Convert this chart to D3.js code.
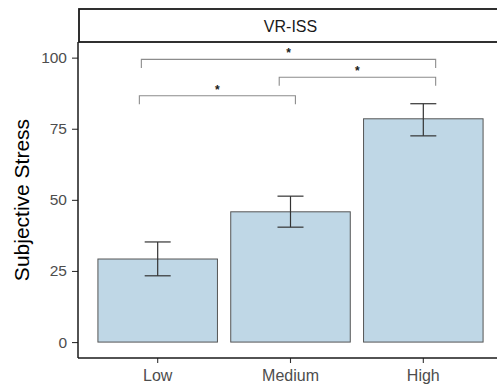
<!DOCTYPE html>
<html>
  <head>
    <meta charset="utf-8">
    <title>VR-ISS Subjective Stress</title>
    <style>
      body { margin: 0; background: #fff; }
      svg { display: block; font-family: "Liberation Sans", Arial, sans-serif; }
    </style>
  </head>
  <body>
    <div id="chart"></div>
    <script src="https://cdn.jsdelivr.net/npm/d3@7"></script>
    <script>
    var categories = ["Low", "Medium", "High"];
    var means = [29.2, 45.8, 78.5];
    var lower = [23.3, 40.4, 72.5];
    var upper = [35.2, 51.3, 83.8];
    var yTicks = [0, 25, 50, 75, 100];
    var panelTitle = "VR-ISS";
    var yTitle = "Subjective Stress";

    // significance brackets, x in category positions (Low = 1)
    var bracketFrom = [0.862, 1.915, 0.877];
    var bracketTo = [2.037, 3.093, 3.093];
    var bracketY = [86.6, 93.1, 99.4];
    var bracketLabel = ["*", "*", "*"];

    var width = 497, height = 385;
    var panelLeft = 78, panelTop = 42, panelBottom = 358, panelRight = 503;

    var svg = d3.select("#chart").append("svg")
        .attr("width", width)
        .attr("height", height);

    var x = d3.scaleBand()
        .domain(categories)
        .range([panelLeft, panelRight])
        .paddingInner(0.1)
        .paddingOuter(0.15);

    var xPos = function(p) {
        return x(categories[0]) + x.bandwidth() / 2 + (p - 1) * x.step();
    };

    var y = d3.scaleLinear()
        .domain([-5.6, 105.5])
        .range([panelBottom, panelTop]);

    // strip
    svg.append("rect")
        .attr("x", panelLeft + 1)
        .attr("y", 9)
        .attr("width", panelRight - panelLeft)
        .attr("height", panelTop - 9)
        .style("fill", "#fff")
        .style("stroke", "#1a1a1a")
        .style("stroke-width", 1.8);
    svg.append("text")
        .attr("x", (panelLeft + panelRight) / 2)
        .attr("y", 26)
        .attr("dy", "0.35em")
        .attr("text-anchor", "middle")
        .style("font-size", "16px")
        .style("fill", "#1a1a1a")
        .text(panelTitle);

    // bars
    svg.selectAll(".bar")
        .data(categories)
        .enter().append("rect")
        .attr("class", "bar")
        .attr("x", function(d) { return x(d); })
        .attr("y", function(d, i) { return y(means[i]); })
        .attr("width", x.bandwidth())
        .attr("height", function(d, i) { return y(0) - y(means[i]); })
        .style("fill", "#bfd7e6")
        .style("stroke", "#555")
        .style("stroke-width", 1);

    // error bars
    var capHalf = 13;
    var eb = svg.selectAll(".err")
        .data(categories)
        .enter().append("g")
        .attr("class", "err")
        .style("stroke", "#333")
        .style("stroke-width", 1.2);
    eb.append("line")
        .attr("x1", function(d) { return x(d) + x.bandwidth() / 2; })
        .attr("x2", function(d) { return x(d) + x.bandwidth() / 2; })
        .attr("y1", function(d, i) { return y(lower[i]); })
        .attr("y2", function(d, i) { return y(upper[i]); });
    eb.append("line")
        .attr("x1", function(d) { return x(d) + x.bandwidth() / 2 - capHalf; })
        .attr("x2", function(d) { return x(d) + x.bandwidth() / 2 + capHalf; })
        .attr("y1", function(d, i) { return y(upper[i]); })
        .attr("y2", function(d, i) { return y(upper[i]); });
    eb.append("line")
        .attr("x1", function(d) { return x(d) + x.bandwidth() / 2 - capHalf; })
        .attr("x2", function(d) { return x(d) + x.bandwidth() / 2 + capHalf; })
        .attr("y1", function(d, i) { return y(lower[i]); })
        .attr("y2", function(d, i) { return y(lower[i]); });

    // brackets
    var tip = 3;
    var br = svg.selectAll(".bracket")
        .data(bracketY)
        .enter().append("g")
        .attr("class", "bracket");
    br.append("path")
        .attr("d", function(d, i) {
            var x1 = xPos(bracketFrom[i]), x2 = xPos(bracketTo[i]);
            return "M" + x1 + "," + y(d - tip) + "V" + y(d) + "H" + x2 + "V" + y(d - tip);
        })
        .style("fill", "none")
        .style("stroke", "#8c8c8c")
        .style("stroke-width", 1.1);
    br.append("text")
        .attr("x", function(d, i) { return (xPos(bracketFrom[i]) + xPos(bracketTo[i])) / 2; })
        .attr("y", function(d) { return y(d) - 2; })
        .attr("text-anchor", "middle")
        .style("font-size", "12px")
        .style("font-weight", "bold")
        .style("fill", "#1a1a1a")
        .text(function(d, i) { return bracketLabel[i]; });

    // axes
    var yAxis = svg.append("g")
        .attr("transform", "translate(" + panelLeft + ",0)")
        .call(d3.axisLeft(y).tickValues(yTicks).tickSize(6).tickPadding(5));
    var xAxis = svg.append("g")
        .attr("transform", "translate(0," + panelBottom + ")")
        .call(d3.axisBottom(x).tickSize(5).tickPadding(7));

    [yAxis, xAxis].forEach(function(a) {
        a.select(".domain").remove();
        a.selectAll(".tick line").style("stroke", "#333").style("stroke-width", 1.1);
        a.selectAll(".tick text")
            .style("font-family", "\"Liberation Sans\", Arial, sans-serif")
            .style("font-size", "15.5px")
            .style("fill", "#4d4d4d");
    });
    xAxis.selectAll(".tick text").style("font-size", "16px");

    svg.append("line")
        .attr("x1", panelLeft).attr("x2", panelLeft)
        .attr("y1", panelTop).attr("y2", panelBottom)
        .style("stroke", "#1a1a1a").style("stroke-width", 1.5);
    svg.append("line")
        .attr("x1", panelLeft).attr("x2", panelRight)
        .attr("y1", panelBottom).attr("y2", panelBottom)
        .style("stroke", "#1a1a1a").style("stroke-width", 1.5);

    svg.append("text")
        .attr("transform", "translate(29," + (panelTop + panelBottom) / 2 + ") rotate(-90)")
        .attr("text-anchor", "middle")
        .style("font-size", "21px")
        .style("fill", "#000")
        .text(yTitle);
    </script>
  </body>
</html>
